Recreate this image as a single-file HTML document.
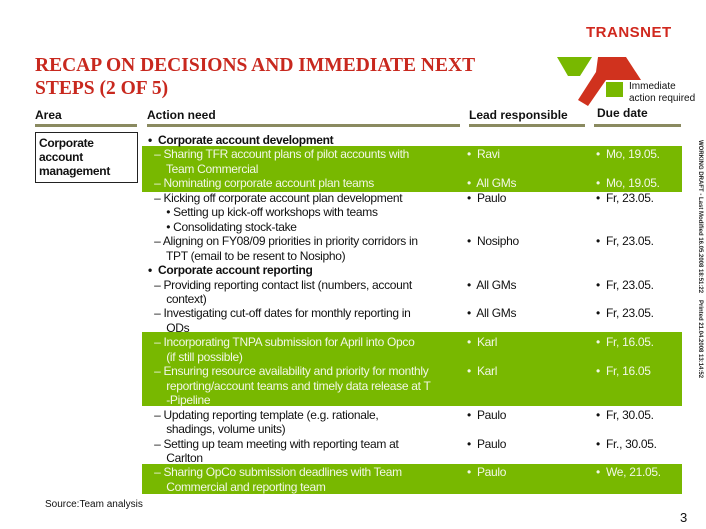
<!DOCTYPE html>
<html><head><meta charset="utf-8"><style>
body{margin:0;width:706px;height:529px;background:#fff;position:relative;overflow:hidden;font-family:"Liberation Sans",sans-serif;color:#111}
.a{position:absolute;white-space:nowrap}
.t{font-size:12px;line-height:14px;letter-spacing:-0.3px}
.g{position:absolute;left:142px;width:540px;background:#78b800}
.w{color:#f2f7e6}
.h{font-size:12px;font-weight:bold;top:108px}
.u{position:absolute;top:124px;height:3px;background:#8a8a60}
.r{transform-origin:0 0;transform:rotate(90deg);font-size:6px;font-weight:bold;color:#222}
</style></head><body>
<div class="a" style="left:35px;top:54px;font-family:'Liberation Serif',serif;font-weight:bold;font-size:19.5px;line-height:23px;color:#c8281e">RECAP ON DECISIONS AND IMMEDIATE NEXT<br>STEPS (2 OF 5)</div>
<div class="a" style="left:586px;top:24px;font-weight:bold;font-size:15px;color:#d0281e;letter-spacing:0.5px">TRANSNET</div>
<svg class="a" style="left:0;top:0" width="706" height="130"><polygon points="557,57 592,57 580,76 568,76" fill="#78b800"/><polygon points="598,57 626,57 641,80 606,80 588,106 578,100 596,72" fill="#d0321e"/></svg>
<div class="a" style="left:606px;top:82px;width:17px;height:15px;background:#78b800"></div>
<div class="a" style="left:629px;top:81px;font-size:10px;line-height:12px">Immediate<br>action required</div>

<div class="a h" style="left:35px">Area</div>
<div class="a h" style="left:147px">Action need</div>
<div class="a h" style="left:469px">Lead responsible</div>
<div class="a h" style="left:597px;top:106px">Due date</div>
<div class="u" style="left:35px;width:102px"></div>
<div class="u" style="left:147px;width:313px"></div>
<div class="u" style="left:469px;width:116px"></div>
<div class="u" style="left:594px;width:87px"></div>

<div class="a t" style="left:35px;top:132px;width:98px;height:46px;border:1px solid #222;padding:3px 0 0 3px;font-weight:bold">Corporate<br>account<br>management</div>

<div class="g" style="top:146px;height:46px"></div>
<div class="g" style="top:332px;height:74px"></div>
<div class="g" style="top:464px;height:30px"></div>

<div class="a t" style="left:148px;top:133px;line-height:14.45px">
<b>•&nbsp; Corporate account development</b><br>
<span class="w">&nbsp; – Sharing TFR account plans of pilot accounts with<br>&nbsp;&nbsp;&nbsp;&nbsp;&nbsp; Team Commercial<br>&nbsp; – Nominating corporate account plan teams</span><br>
&nbsp; – Kicking off corporate account plan development<br>
&nbsp;&nbsp;&nbsp;&nbsp;&nbsp; • Setting up kick-off workshops with teams<br>
&nbsp;&nbsp;&nbsp;&nbsp;&nbsp; • Consolidating stock-take<br>
&nbsp; – Aligning on FY08/09 priorities in priority corridors in<br>&nbsp;&nbsp;&nbsp;&nbsp;&nbsp; TPT (email to be resent to Nosipho)<br>
<b>•&nbsp; Corporate account reporting</b><br>
&nbsp; – Providing reporting contact list (numbers, account<br>&nbsp;&nbsp;&nbsp;&nbsp;&nbsp; context)<br>
&nbsp; – Investigating cut-off dates for monthly reporting in<br>&nbsp;&nbsp;&nbsp;&nbsp;&nbsp; ODs<br>
<span class="w">&nbsp; – Incorporating TNPA submission for April into Opco<br>&nbsp;&nbsp;&nbsp;&nbsp;&nbsp; (if still possible)<br>&nbsp; – Ensuring resource availability and priority for monthly<br>&nbsp;&nbsp;&nbsp;&nbsp;&nbsp; reporting/account teams and timely data release at T<br>&nbsp;&nbsp;&nbsp;&nbsp;&nbsp; -Pipeline</span><br>
&nbsp; – Updating reporting template (e.g. rationale,<br>&nbsp;&nbsp;&nbsp;&nbsp;&nbsp; shadings, volume units)<br>
&nbsp; – Setting up team meeting with reporting team at<br>&nbsp;&nbsp;&nbsp;&nbsp;&nbsp; Carlton<br>
<span class="w">&nbsp; – Sharing OpCo submission deadlines with Team<br>&nbsp;&nbsp;&nbsp;&nbsp;&nbsp; Commercial and reporting team</span>
</div>

<div class="a t" style="left:467px;top:133px;line-height:14.45px">
<br><span class="w">•&nbsp; Ravi<br><br>•&nbsp; All GMs</span><br>•&nbsp; Paulo<br><br><br>•&nbsp; Nosipho<br><br><br>•&nbsp; All GMs<br><br>•&nbsp; All GMs<br><br><span class="w">•&nbsp; Karl<br><br>•&nbsp; Karl</span><br><br><br>•&nbsp; Paulo<br><br>•&nbsp; Paulo<br><br><span class="w">•&nbsp; Paulo</span>
</div>
<div class="a t" style="left:596px;top:133px;line-height:14.45px">
<br><span class="w">•&nbsp; Mo, 19.05.<br><br>•&nbsp; Mo, 19.05.</span><br>•&nbsp; Fr, 23.05.<br><br><br>•&nbsp; Fr, 23.05.<br><br><br>•&nbsp; Fr, 23.05.<br><br>•&nbsp; Fr, 23.05.<br><br><span class="w">•&nbsp; Fr, 16.05.<br><br>•&nbsp; Fr, 16.05</span><br><br><br>•&nbsp; Fr, 30.05.<br><br>•&nbsp; Fr., 30.05.<br><br><span class="w">•&nbsp; We, 21.05.</span>
</div>

<div class="a r" style="left:703px;top:140px">WORKING DRAFT - Last Modified 16.05.2008 18:51:22</div>
<div class="a r" style="left:703px;top:300px">Printed 21.04.2008 13:14:52</div>

<div class="a" style="left:45px;top:499px;font-size:10px">Source:Team analysis</div>
<div class="a" style="left:680px;top:510px;font-size:13px">3</div>
</body></html>
